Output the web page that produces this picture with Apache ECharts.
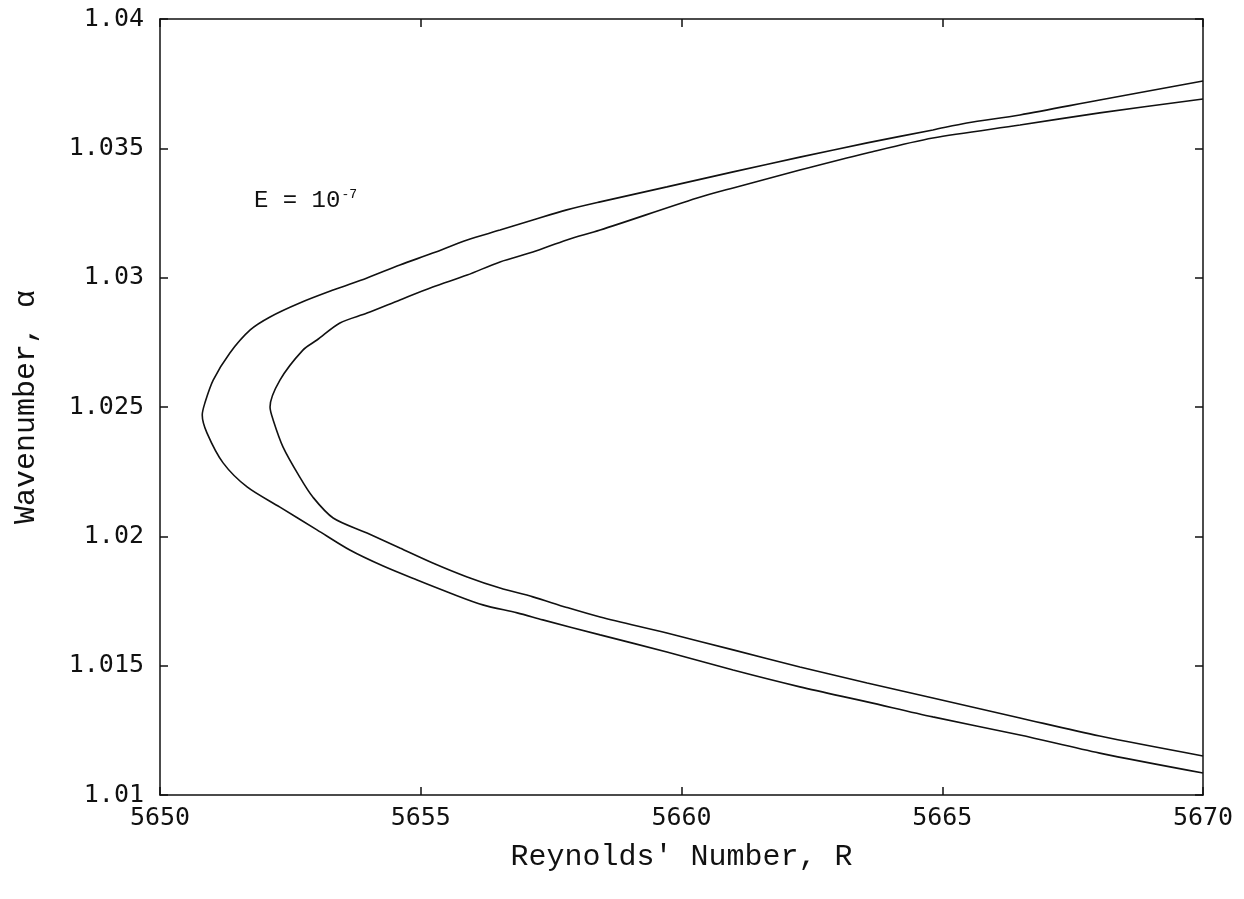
<!DOCTYPE html>
<html>
<head>
<meta charset="utf-8">
<title>Neutral stability curves</title>
<script src="https://cdn.jsdelivr.net/npm/echarts@6/dist/echarts.min.js"></script>
<style>
  html, body { margin: 0; padding: 0; background: #fff; }
  #chart { width: 1244px; height: 899px; }
</style>
</head>
<body>
<div id="chart"></div>
<script>
// Outer neutral curve: upper branch from the right edge to the nose, then lower branch back out.
const outerR = [5670.00, 5668.02, 5666.49, 5665.47, 5664.82, 5663.56, 5662.27, 5660.99, 5659.72,
  5658.44, 5657.80, 5657.15, 5656.52, 5655.89, 5655.23, 5654.60, 5653.97, 5653.32, 5652.68,
  5652.11, 5651.73, 5651.34, 5651.02, 5650.86, 5650.81,
  5650.90, 5651.21, 5651.67, 5652.30, 5653.01, 5653.64, 5654.28, 5654.93, 5655.56, 5656.19,
  5656.85, 5657.34, 5658.44, 5659.72, 5660.99, 5662.27, 5663.56, 5664.82, 5666.49, 5668.02, 5670.00];
const outerAlpha = [1.03760, 1.03687, 1.03629, 1.03598, 1.03571, 1.03521, 1.03466, 1.03409, 1.03351,
  1.03293, 1.03262, 1.03223, 1.03184, 1.03146, 1.03095, 1.03049, 1.02999, 1.02952, 1.02902,
  1.02848, 1.02798, 1.02709, 1.02604, 1.02515, 1.02469,
  1.02400, 1.02284, 1.02191, 1.02113, 1.02025, 1.01947, 1.01885, 1.01831, 1.01781, 1.01735,
  1.01704, 1.01677, 1.01619, 1.01553, 1.01483, 1.01418, 1.01360, 1.01302, 1.01232, 1.01162, 1.01085];

// Inner neutral curve, same traversal.
const innerR = [5670.00, 5668.02, 5666.49, 5664.82, 5663.56, 5662.27, 5660.99, 5660.30, 5658.44, 5657.80,
  5657.15, 5656.52, 5655.89, 5655.23, 5654.60, 5653.97, 5653.45, 5653.01, 5652.74, 5652.30, 5652.11,
  5652.17, 5652.36, 5652.68, 5652.93, 5653.32, 5653.97, 5654.60, 5655.23, 5655.89, 5656.52,
  5657.15, 5657.80, 5658.44, 5659.72, 5660.99, 5662.27, 5663.56, 5664.82, 5666.49, 5668.02, 5670.00];
const innerAlpha = [1.03691, 1.03637, 1.03590, 1.03540, 1.03482, 1.03416, 1.03347, 1.03308, 1.03184, 1.03146,
  1.03099, 1.03061, 1.03010, 1.02964, 1.02914, 1.02863, 1.02825, 1.02759, 1.02720, 1.02604, 1.02500,
  1.02450, 1.02345, 1.02229, 1.02152, 1.02071, 1.02013, 1.01955, 1.01897, 1.01843, 1.01800,
  1.01766, 1.01725, 1.01688, 1.01626, 1.01561, 1.01495, 1.01433, 1.01375, 1.01298, 1.01228, 1.01151];

const xRange = [5650, 5670];
const xStep = 5;
const yRange = [1.01, 1.04];
const yStep = 0.005;

const xTitle = "Reynolds' Number, R";
const yTitle = "Wavenumber, \u03b1";

const pairs = (xs, ys) => xs.map((x, i) => [x, ys[i]]);

const tickFont = { fontFamily: 'DejaVu Sans Mono', fontSize: 25, color: '#111' };
const titleFont = { fontFamily: 'Liberation Mono', fontSize: 30, color: '#111' };
const frameLine = { lineStyle: { color: '#111', width: 1.5 } };
const inwardTick = { show: true, inside: true, length: 8, lineStyle: { color: '#111', width: 1.5 } };

const chart = echarts.init(document.getElementById('chart'), null, { renderer: 'canvas' });

chart.setOption({
  backgroundColor: '#fff',
  animation: false,
  grid: { left: 160, right: 41, top: 19, bottom: 104, containLabel: false, outerBoundsMode: 'none' },
  xAxis: [
    {
      type: 'value', min: xRange[0], max: xRange[1], interval: xStep,
      position: 'bottom',
      axisLine: frameLine, axisTick: inwardTick, splitLine: { show: false },
      axisLabel: Object.assign({ margin: 11, formatter: v => String(v) }, tickFont),
      name: xTitle, nameLocation: 'middle', nameGap: 47, nameTextStyle: titleFont
    },
    {
      type: 'value', min: xRange[0], max: xRange[1], interval: xStep,
      position: 'top',
      axisLine: frameLine, axisTick: inwardTick, splitLine: { show: false },
      axisLabel: { show: false }
    }
  ],
  yAxis: [
    {
      type: 'value', min: yRange[0], max: yRange[1], interval: yStep,
      position: 'left',
      axisLine: frameLine, axisTick: inwardTick, splitLine: { show: false },
      axisLabel: Object.assign({ margin: 16, formatter: v => String(+v.toFixed(3)) }, tickFont),
      name: yTitle, nameLocation: 'middle', nameGap: 119, nameTextStyle: titleFont
    },
    {
      type: 'value', min: yRange[0], max: yRange[1], interval: yStep,
      position: 'right',
      axisLine: frameLine, axisTick: inwardTick, splitLine: { show: false },
      axisLabel: { show: false }
    }
  ],
  series: [
    {
      type: 'line', name: 'outer', data: pairs(outerR, outerAlpha),
      showSymbol: false, smooth: 0.3, lineStyle: { color: '#111', width: 1.6 }
    },
    {
      type: 'line', name: 'inner', data: pairs(innerR, innerAlpha),
      showSymbol: false, smooth: 0.3, lineStyle: { color: '#111', width: 1.6 }
    }
  ],
  graphic: [
    {
      type: 'text', left: 254, top: 188,
      style: {
        text: 'E = 10{sup|-7}',
        fontFamily: 'Liberation Mono', fontSize: 24, fill: '#111',
        rich: { sup: { fontFamily: 'Liberation Mono', fontSize: 13, verticalAlign: 'top', padding: [0, 0, 12, 1] } }
      }
    }
  ]
});
</script>
</body>
</html>
